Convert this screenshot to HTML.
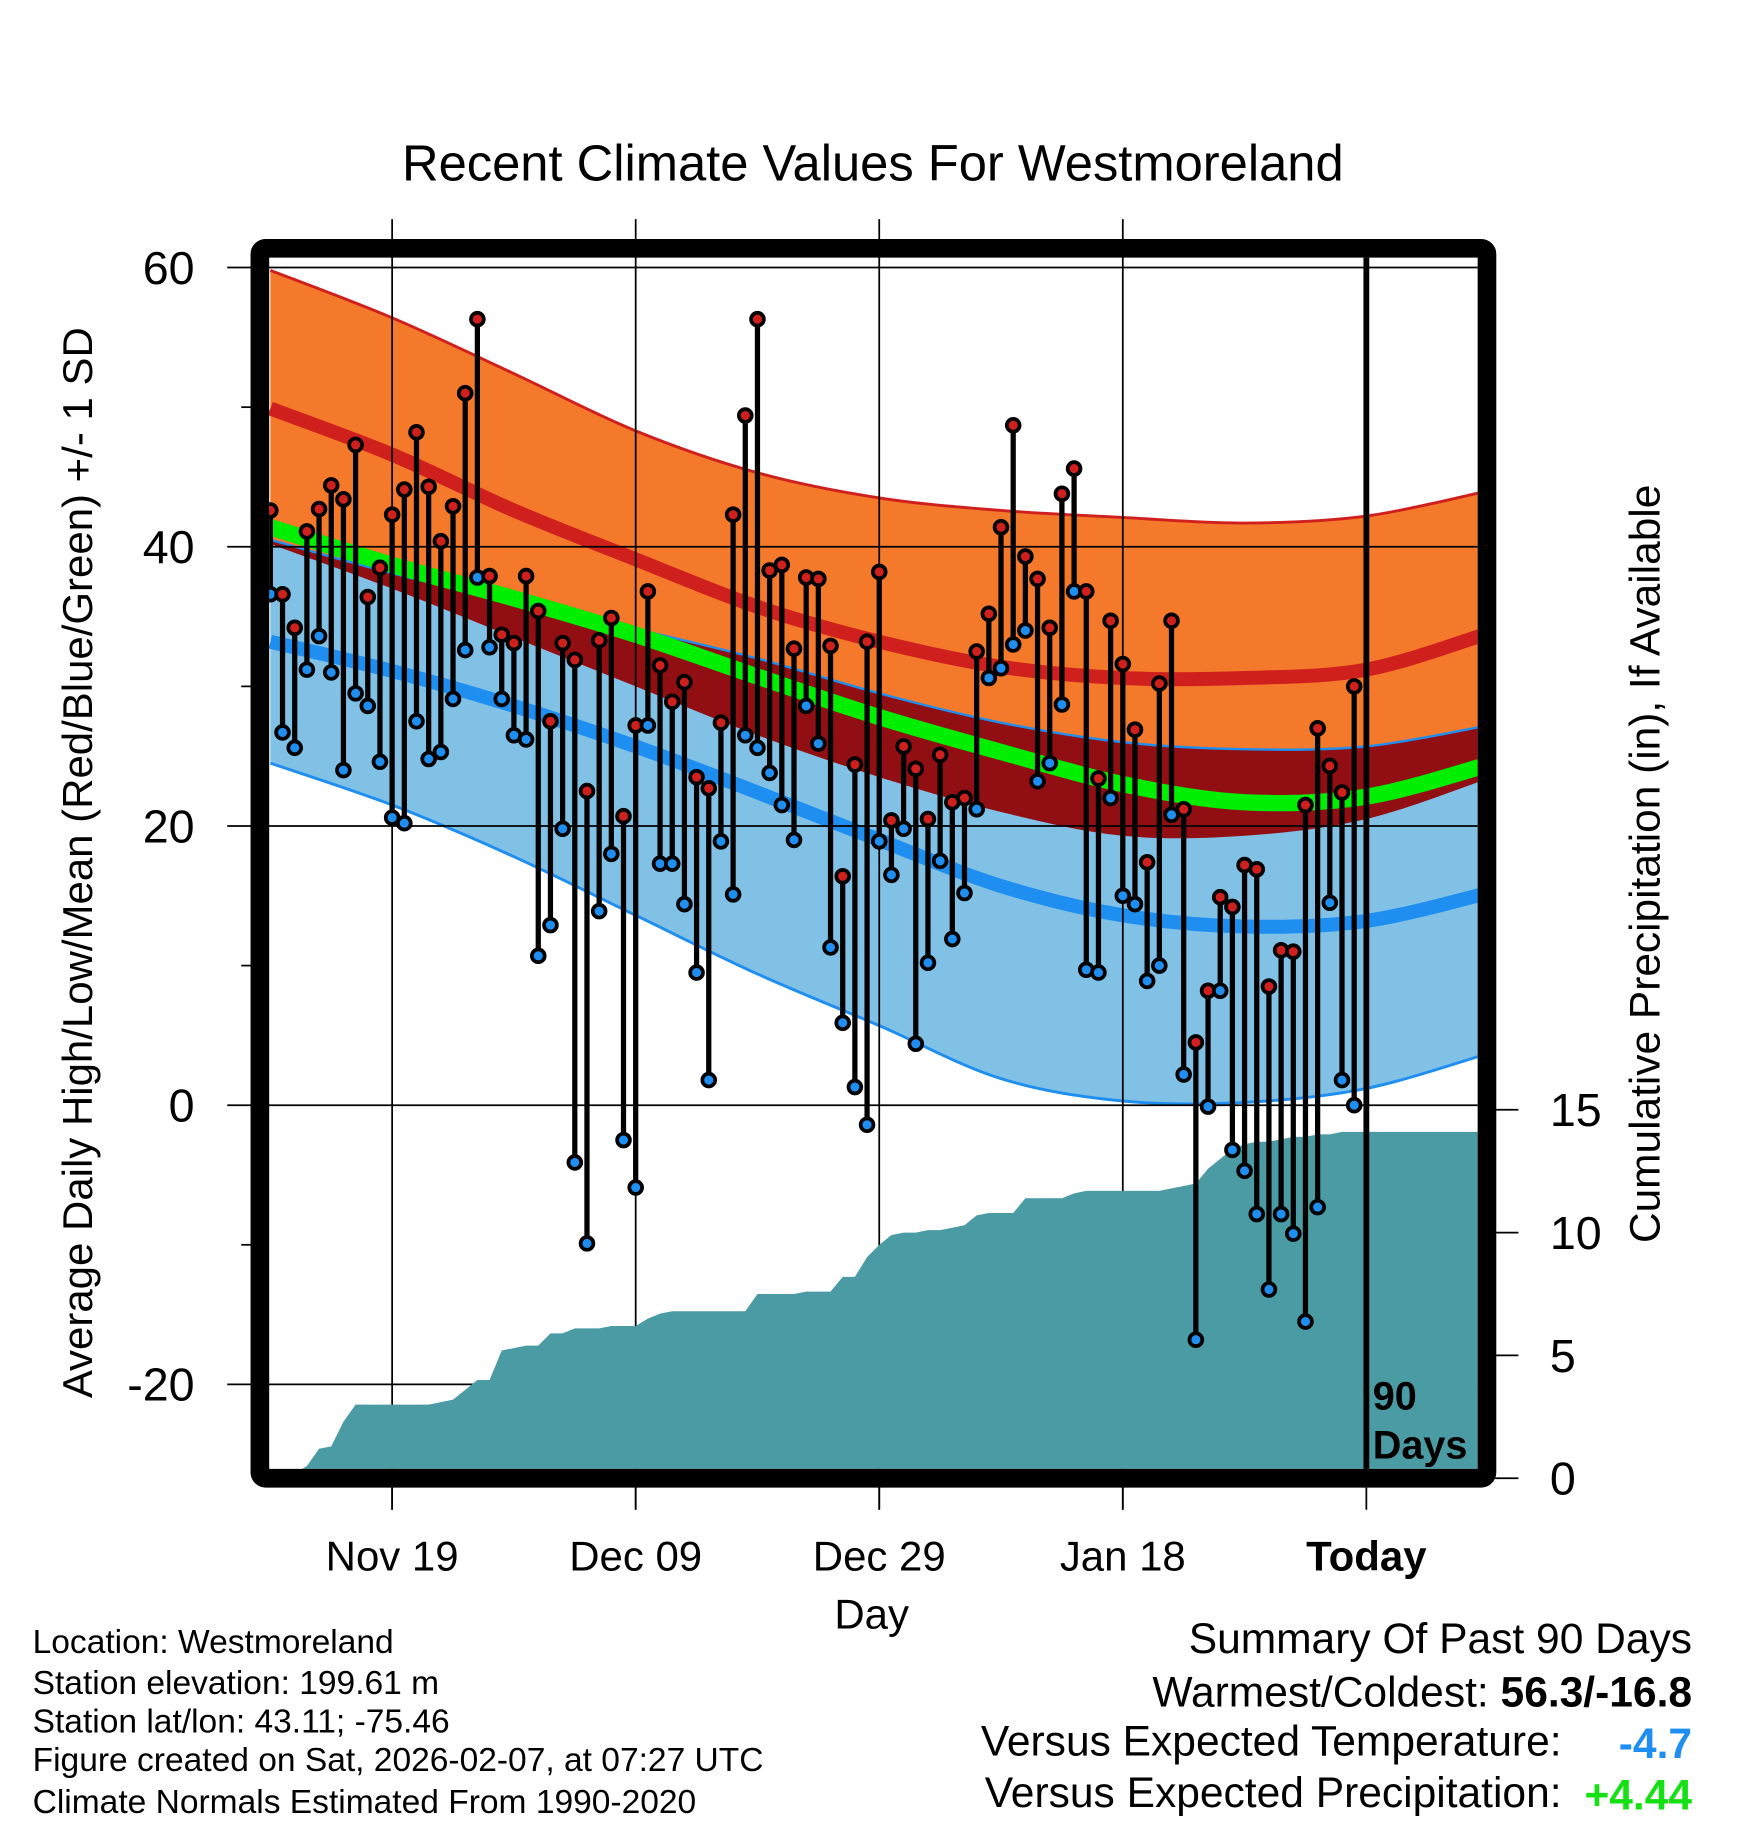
<!DOCTYPE html>
<html><head><meta charset="utf-8"><style>html,body{margin:0;padding:0;background:#fff}svg{display:block}text{font-family:"Liberation Sans",sans-serif}</style></head>
<body>
<svg id="chart" xmlns="http://www.w3.org/2000/svg" width="1748" height="1828" viewBox="0 0 1500 1568" preserveAspectRatio="none">
<defs><clipPath id="clip"><rect x="231" y="221" width="1037" height="1039"/></clipPath></defs>
<rect width="1500" height="1568" fill="#fff"/>
<text x="749" y="155" font-size="43.5" text-anchor="middle">Recent Climate Values For Westmoreland</text>
<g id="bands" clip-path="url(#clip)"></g>
<g id="grid"></g>
<g id="precip" clip-path="url(#clip)"></g>
<g id="stems" clip-path="url(#clip)"></g>
<rect x="223" y="213" width="1053" height="1055" rx="5" fill="none" stroke="#000" stroke-width="16"/>
<g id="axes"></g>
<text transform="translate(79,740) rotate(-90)" font-size="36" text-anchor="middle">Average Daily High/Low/Mean (Red/Blue/Green) +/- 1 SD</text>
<text transform="translate(1424,741) rotate(-90)" font-size="36.4" text-anchor="middle">Cumulative Precipitation (in), If Available</text>
<text x="748" y="1397" font-size="36" text-anchor="middle">Day</text>
<text x="1178" y="1209" font-size="34" font-weight="bold">90</text>
<text x="1178" y="1251" font-size="34" font-weight="bold">Days</text>
<g font-size="28.8">
<text x="28" y="1418">Location: Westmoreland</text>
<text x="28" y="1453">Station elevation: 199.61 m</text>
<text x="28" y="1486">Station lat/lon: 43.11; -75.46</text>
<text x="28" y="1519">Figure created on Sat, 2026-02-07, at 07:27 UTC</text>
<text x="28" y="1555">Climate Normals Estimated From 1990-2020</text>
</g>
<g font-size="36.5">
<text x="1452" y="1418" text-anchor="end">Summary Of Past 90 Days</text>
<text x="1452" y="1464" text-anchor="end">Warmest/Coldest: <tspan font-weight="bold">56.3/-16.8</tspan></text>
<text x="1340" y="1506" text-anchor="end">Versus Expected Temperature:</text>
<text x="1452" y="1508" text-anchor="end" fill="#1e8ff0" font-weight="bold">-4.7</text>
<text x="1340" y="1550" text-anchor="end">Versus Expected Precipitation:</text>
<text x="1452" y="1552" text-anchor="end" fill="#14e014" font-weight="bold">+4.44</text>
</g>
</svg>
<script>
const normDays=[0,10,20,30,40,50,60,70,80,90,100];
const highPlusSD=[59.8,56.4,52.4,48.3,45.3,43.5,42.6,42.1,41.7,42.2,44.0];
const meanHigh=[49.9,46.6,42.6,39.1,35.7,33.2,31.4,30.6,30.6,31.2,33.8];
const highMinusSD=[40.2,37.0,33.5,30.0,26.5,23.5,21.0,19.3,19.3,20.5,23.4];
const meanTemp=[41.4,38.7,36.3,33.7,30.7,27.8,25.3,23.0,21.7,22.1,24.4];
const lowPlusSD=[40.5,38.1,36.0,34.1,32.0,29.5,27.4,26.0,25.5,25.7,27.2];
const meanLow=[33.2,31.1,28.6,25.7,22.4,19.0,15.7,13.6,12.8,13.2,15.2];
const lowMinusSD=[24.5,21.5,17.8,13.6,9.4,5.7,1.9,0.3,0.2,1.2,3.7];
const highs=[42.6,36.6,34.2,41.1,42.7,44.4,43.4,47.3,36.4,38.5,42.3,44.1,48.2,44.3,40.4,42.9,51.0,56.3,37.9,33.7,33.1,37.9,35.4,27.5,33.1,31.9,22.5,33.3,34.9,20.7,27.2,36.8,31.5,28.9,30.3,23.5,22.7,27.4,42.3,49.4,56.3,38.3,38.7,32.7,37.8,37.7,32.9,16.4,24.4,33.2,38.2,20.4,25.7,24.1,20.5,25.1,21.7,22.0,32.5,35.2,41.4,48.7,39.3,37.7,34.2,43.8,45.6,36.8,23.4,34.7,31.6,26.9,17.4,30.2,34.7,21.2,4.5,8.2,14.9,14.2,17.2,16.9,8.5,11.1,11.0,21.5,27.0,24.3,22.4,30.0];
const lows=[36.6,26.7,25.6,31.2,33.6,31.0,24.0,29.5,28.6,24.6,20.6,20.2,27.5,24.8,25.3,29.1,32.6,37.8,32.8,29.1,26.5,26.2,10.7,12.9,19.8,-4.1,-9.9,13.9,18.0,-2.5,-5.9,27.2,17.3,17.3,14.4,9.5,1.8,18.9,15.1,26.5,25.6,23.8,21.5,19.0,28.6,25.9,11.3,5.9,1.3,-1.4,18.9,16.5,19.8,4.4,10.2,17.5,11.9,15.2,21.2,30.6,31.3,33.0,34.0,23.2,24.5,28.7,36.8,9.7,9.5,22.0,15.0,14.4,8.9,10.0,20.8,2.2,-16.8,-0.1,8.2,-3.2,-4.7,-7.8,-13.2,-7.8,-9.2,-15.5,-7.3,14.5,1.8,0.0];
const precip=[0,0,0.2,0.5,1.2,1.3,2.3,3.0,3.0,3.0,3.0,3.0,3.0,3.0,3.1,3.2,3.6,4.0,4.0,5.2,5.3,5.4,5.4,5.9,5.9,6.1,6.1,6.1,6.2,6.2,6.2,6.5,6.7,6.8,6.8,6.8,6.8,6.8,6.8,6.8,7.5,7.5,7.5,7.5,7.6,7.6,7.6,8.2,8.2,9.0,9.5,9.9,10.0,10.0,10.1,10.1,10.2,10.3,10.7,10.8,10.8,10.8,11.4,11.4,11.4,11.4,11.6,11.7,11.7,11.7,11.7,11.7,11.7,11.7,11.8,11.9,12.0,12.6,13.0,13.4,13.6,13.7,13.7,13.8,13.9,13.9,14.0,14.0,14.1,14.1];
const yTicks=[60,40,20,0,-20];
const yMinor=[50,30,10,-10];
const pTicks=[0,5,10,15];
const xTickDays=[10,30,50,70,90];
const xTickLabels=["Nov 19","Dec 09","Dec 29","Jan 18","Today"];

const NS="http://www.w3.org/2000/svg";
const X=d=>232+10.45*d;
const Y=v=>948-v*11.975;
const P=p=>1268-p*21.07;
function mk(tag,attrs,parent){const e=document.createElementNS(NS,tag);for(const k in attrs)e.setAttribute(k,attrs[k]);parent.appendChild(e);return e;}
function pts(vals){return normDays.map((d,i)=>[X(d),Y(vals[i])]);}
function smooth(p,move){let s=(move?"M":"L")+p[0][0]+","+p[0][1];for(let i=0;i<p.length-1;i++){const p0=p[Math.max(0,i-1)],p1=p[i],p2=p[i+1],p3=p[Math.min(p.length-1,i+2)];const c1=[p1[0]+(p2[0]-p0[0])/6,p1[1]+(p2[1]-p0[1])/6],c2=[p2[0]-(p3[0]-p1[0])/6,p2[1]-(p3[1]-p1[1])/6];s+=`C${c1[0]},${c1[1]} ${c2[0]},${c2[1]} ${p2[0]},${p2[1]}`;}return s;}
function band(top,bot){return smooth(pts(top),true)+smooth(pts(bot).reverse(),false)+"Z";}

const bands=document.getElementById('bands');
let e;
e=mk('path',{d:band(highPlusSD,highMinusSD),fill:'#f4792b'},bands);

e=mk('path',{d:band(lowPlusSD,lowMinusSD),fill:'#82c1e6'},bands);

e=mk('path',{d:band(lowPlusSD,highMinusSD),fill:'#910e12'},bands);

e=mk('path',{d:smooth(pts(highPlusSD),true),fill:'none',stroke:'#d0201e','stroke-width':2.5},bands);

e=mk('path',{d:smooth(pts(lowPlusSD),true),fill:'none',stroke:'#1e8ff0','stroke-width':2},bands);

e=mk('path',{d:smooth(pts(lowMinusSD),true),fill:'none',stroke:'#1e8ff0','stroke-width':2.5},bands);

e=mk('path',{d:smooth(pts(meanHigh),true),fill:'none',stroke:'#d0201e','stroke-width':12},bands);

e=mk('path',{d:smooth(pts(meanLow),true),fill:'none',stroke:'#1e8ff0','stroke-width':12},bands);

e=mk('path',{d:smooth(pts(meanTemp),true),fill:'none',stroke:'#00ee00','stroke-width':14},bands);


const grid=document.getElementById('grid');
yTicks.forEach(v=>{e=mk('line',{x1:195,x2:1268,y1:Y(v),y2:Y(v),stroke:'#000','stroke-width':1.5},grid);
});
xTickDays.forEach((d,i)=>{if(i<4){e=mk('line',{x1:X(d),x2:X(d),y1:188,y2:1295,stroke:'#000','stroke-width':1.5},grid);
}});

const pg=document.getElementById('precip');
let pd="M"+X(0)+","+P(0);
precip.forEach((p,i)=>{pd+=" L"+X(i)+","+P(p);});
pd+=" L1268,"+P(precip[precip.length-1])+" L1268,1268 Z";
e=mk('path',{d:pd,fill:'#4a9ba3'},pg);


const sg=document.getElementById('stems');
highs.forEach((h,i)=>{const x=X(i);
e=mk('line',{x1:x,x2:x,y1:Y(h),y2:Y(lows[i]),stroke:'#000','stroke-width':4.5},sg);
});
e=mk('line',{x1:X(90),x2:X(90),y1:188,y2:1262,stroke:'#000','stroke-width':5},sg);

highs.forEach((h,i)=>{const x=X(i);
e=mk('circle',{cx:x,cy:Y(lows[i]),r:5.5,fill:'#1e8ff0',stroke:'#000','stroke-width':3.2},sg);

e=mk('circle',{cx:x,cy:Y(h),r:5.5,fill:'#d0201e',stroke:'#000','stroke-width':3.2},sg);
});

const ax=document.getElementById('axes');
yTicks.forEach(v=>{e=mk('text',{x:167,y:Y(v)+14,'font-size':40,'text-anchor':'end'},ax);e.textContent=String(v);
});
yMinor.forEach(v=>{e=mk('line',{x1:207,x2:216,y1:Y(v),y2:Y(v),stroke:'#000','stroke-width':1.5},ax);
});
pTicks.forEach(p=>{e=mk('line',{x1:1283,x2:1303,y1:P(p),y2:P(p),stroke:'#000','stroke-width':1.5},ax);

e=mk('text',{x:1330,y:P(p)+14,'font-size':40},ax);e.textContent=String(p);
});
xTickDays.forEach((d,i)=>{e=mk('line',{x1:X(d),x2:X(d),y1:1276,y2:1295,stroke:'#000','stroke-width':1.5},ax);

e=mk('text',{x:X(d),y:1347,'font-size':36,'text-anchor':'middle'},ax);e.textContent=xTickLabels[i];
if(i===4)e.setAttribute('font-weight','bold');
});
</script>
</body></html>
